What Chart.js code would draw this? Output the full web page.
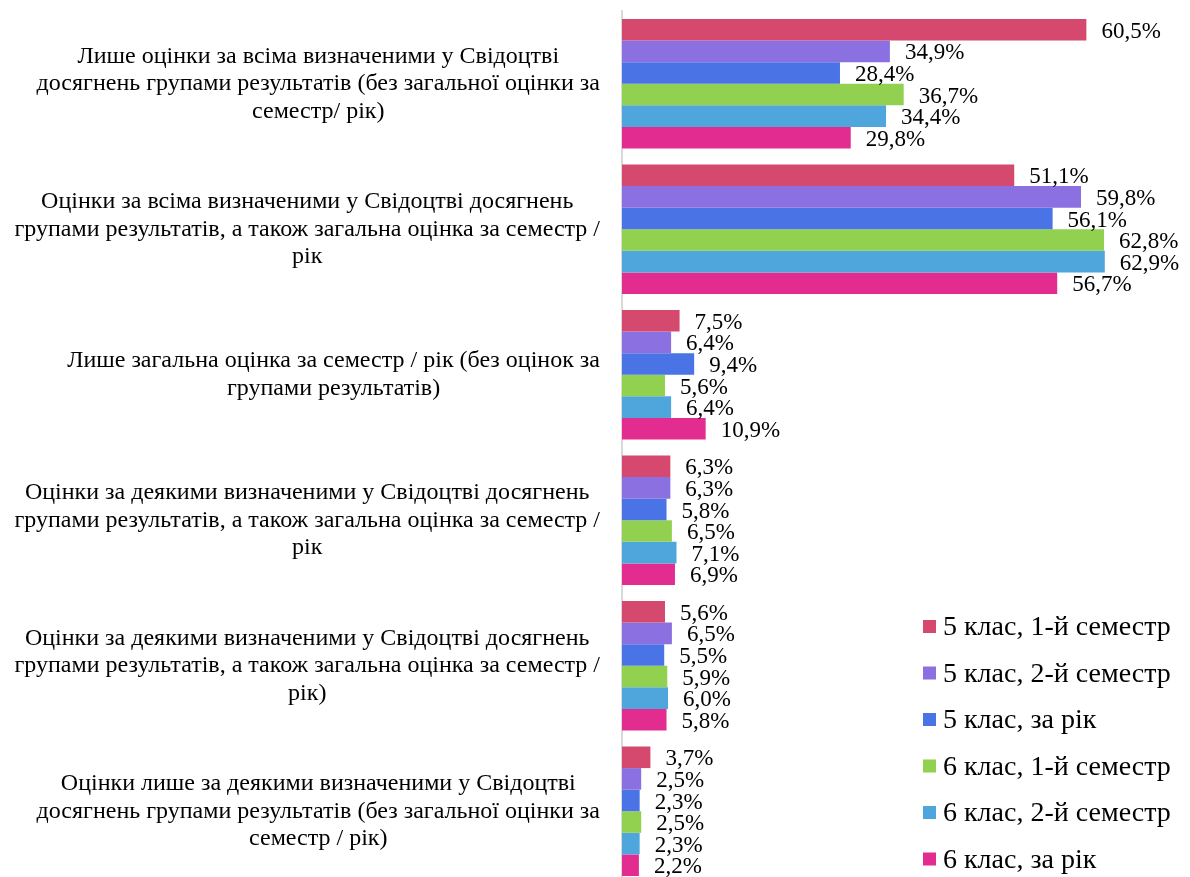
<!DOCTYPE html>
<html>
<head>
<meta charset="utf-8">
<script src="https://cdn.jsdelivr.net/npm/chart.js@4/dist/chart.umd.min.js"></script>
<style>
  html, body { margin: 0; padding: 0; background: #fff; }
  #wrap { width: 1190px; height: 877px; overflow: hidden; }
  canvas { display: block; }
</style>
</head>
<body>
<div id="wrap"><canvas id="chart" width="1190" height="884"></canvas></div>
<script>
// Categories (multi-line labels)
const categories = [
  ['Лише оцінки за всіма визначеними у Свідоцтві', 'досягнень групами результатів (без загальної оцінки за', 'семестр/ рік)'],
  ['Оцінки за всіма визначеними у Свідоцтві досягнень', 'групами результатів, а також загальна оцінка за семестр /', 'рік'],
  ['Лише загальна оцінка за семестр / рік (без оцінок за', 'групами результатів)'],
  ['Оцінки за деякими визначеними у Свідоцтві досягнень', 'групами результатів, а також загальна оцінка за семестр /', 'рік'],
  ['Оцінки за деякими визначеними у Свідоцтві досягнень', 'групами результатів, а також загальна оцінка за семестр /', 'рік)'],
  ['Оцінки лише за деякими визначеними у Свідоцтві', 'досягнень групами результатів (без загальної оцінки за', 'семестр / рік)']
];

const seriesNames = [
  '5 клас, 1-й семестр',
  '5 клас, 2-й семестр',
  '5 клас, за рік',
  '6 клас, 1-й семестр',
  '6 клас, 2-й семестр',
  '6 клас, за рік'
];

// Percent values per series
const grade5Sem1 = [60.5, 51.1, 7.5, 6.3, 5.6, 3.7];
const grade5Sem2 = [34.9, 59.8, 6.4, 6.3, 6.5, 2.5];
const grade5Year = [28.4, 56.1, 9.4, 5.8, 5.5, 2.3];
const grade6Sem1 = [36.7, 62.8, 5.6, 6.5, 5.9, 2.5];
const grade6Sem2 = [34.4, 62.9, 6.4, 7.1, 6.0, 2.3];
const grade6Year = [29.8, 56.7, 10.9, 6.9, 5.8, 2.2];

const colors = ['#d5496f', '#8a70e0', '#4a74e6', '#92d050', '#4ea6dc', '#e22c8f'];
const seriesValues = [grade5Sem1, grade5Sem2, grade5Year, grade6Sem1, grade6Sem2, grade6Year];

const FONT = '"Liberation Serif", "Times New Roman", serif';

function fmt(v) {
  return v.toFixed(1).replace('.', ',') + '%';
}

// Category labels: each block centred on its own widest line, block right-aligned
const categoryLabels = {
  id: 'categoryLabels',
  afterDraw(chart) {
    const ctx = chart.ctx;
    const yScale = chart.scales.y;
    const lineH = 27.5;
    const right = 600;
    ctx.save();
    ctx.font = '24px ' + FONT;
    ctx.fillStyle = '#000';
    ctx.textAlign = 'center';
    ctx.textBaseline = 'middle';
    chart.data.labels.forEach((lines, i) => {
      const widest = Math.max(...lines.map(l => ctx.measureText(l).width));
      const cx = right - widest / 2;
      const cy = yScale.getPixelForTick(i);
      const top = cy - (lines.length - 1) * lineH / 2;
      lines.forEach((line, k) => ctx.fillText(line, cx, top + k * lineH));
    });
    ctx.restore();
  }
};

// Value labels at the end of each bar
const valueLabels = {
  id: 'valueLabels',
  afterDatasetsDraw(chart) {
    const ctx = chart.ctx;
    ctx.save();
    ctx.font = '23px ' + FONT;
    ctx.fillStyle = '#000';
    ctx.textAlign = 'left';
    ctx.textBaseline = 'middle';
    chart.data.datasets.forEach((ds, i) => {
      const meta = chart.getDatasetMeta(i);
      meta.data.forEach((bar, j) => {
        ctx.fillText(fmt(ds.data[j]), bar.x + 15, bar.y + 2);
      });
    });
    ctx.restore();
  }
};

// Legend drawn in the lower right corner
const cornerLegend = {
  id: 'cornerLegend',
  afterDraw(chart) {
    const ctx = chart.ctx;
    ctx.save();
    ctx.font = '28px ' + FONT;
    ctx.textAlign = 'left';
    ctx.textBaseline = 'middle';
    chart.data.datasets.forEach((ds, i) => {
      const y = 627 + i * 46.5;
      ctx.fillStyle = ds.backgroundColor;
      ctx.fillRect(923, y - 7, 13, 13);
      ctx.fillStyle = '#000';
      ctx.fillText(ds.label, 943, y + 1);
    });
    ctx.restore();
  }
};

new Chart(document.getElementById('chart'), {
  type: 'bar',
  data: {
    labels: categories,
    datasets: seriesNames.map((name, i) => ({
      label: name,
      data: seriesValues[i],
      backgroundColor: colors[i],
      borderWidth: 0,
      categoryPercentage: 0.89,
      barPercentage: 1.0
    }))
  },
  options: {
    indexAxis: 'y',
    responsive: false,
    animation: false,
    devicePixelRatio: 1,
    layout: { padding: { top: 11, right: 0, bottom: 0, left: 0 } },
    plugins: {
      legend: { display: false },
      tooltip: { enabled: false }
    },
    scales: {
      x: {
        display: false,
        min: 0,
        max: 74
      },
      y: {
        afterFit(scale) {
          scale.width = 622;
          scale.paddingTop = 0;
          scale.paddingBottom = 0;
        },
        grid: { drawOnChartArea: false, drawTicks: false },
        border: { display: true, color: '#d9d9d9', width: 2 },
        ticks: { display: false }
      }
    }
  },
  plugins: [valueLabels, categoryLabels, cornerLegend]
});
</script>
</body>
</html>
